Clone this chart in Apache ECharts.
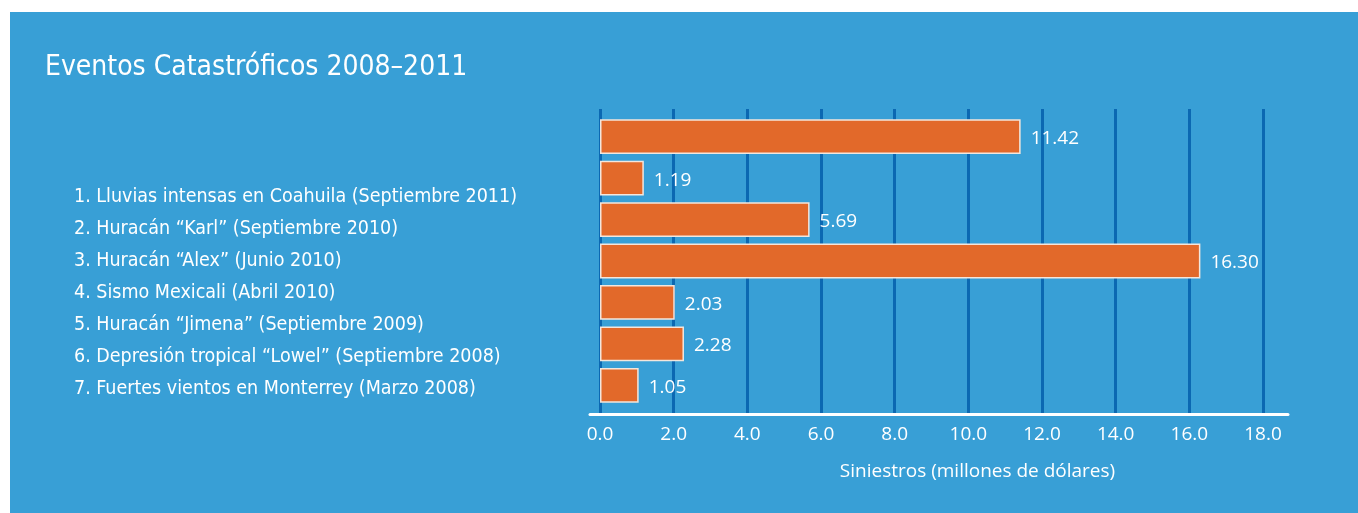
<!DOCTYPE html>
<html>
<head>
<meta charset="utf-8">
<script src="https://cdn.jsdelivr.net/npm/echarts@6/dist/echarts.min.js"></script>
<style>
  html, body { margin: 0; padding: 0; background: #ffffff; width: 1358px; height: 513px; overflow: hidden; }
  #chart { position: absolute; left: 10px; top: 12px; width: 1348px; height: 501px; background: #389fd6; }
</style>
</head>
<body>
<div id="chart"></div>
<script>
const titleText = 'Eventos Catastróficos 2008–2011';
const categories = [
  '1. Lluvias intensas en Coahuila (Septiembre 2011)',
  '2. Huracán “Karl” (Septiembre 2010)',
  '3. Huracán “Alex” (Junio 2010)',
  '4. Sismo Mexicali (Abril 2010)',
  '5. Huracán “Jimena” (Septiembre 2009)',
  '6. Depresión tropical “Lowel” (Septiembre 2008)',
  '7. Fuertes vientos en Monterrey (Marzo 2008)'
];
const values = [11.42, 1.19, 5.69, 16.30, 2.03, 2.28, 1.05];
const xTicks = [0, 2, 4, 6, 8, 10, 12, 14, 16, 18];
const axisName = 'Siniestros (millones de dólares)';

const chart = echarts.init(document.getElementById('chart'));
const narrow = '"DejaVu Sans Condensed", "Liberation Sans Narrow", sans-serif';
const humanist = '"Open Sans", "Noto Sans", sans-serif';

chart.setOption({
  animation: false,
  title: [
    {
      text: titleText, left: 35, top: 42, padding: 0,
      textStyle: { color: '#ffffff', fontFamily: narrow, fontSize: 28, fontWeight: 'normal' }
    },
    {
      text: categories.join('\n'), left: 64, top: 169, padding: 0,
      textStyle: { color: '#ffffff', fontFamily: narrow, fontSize: 19.5, fontWeight: 'normal', lineHeight: 32 }
    }
  ],
  grid: [
    { left: 590, right: 95, top: 97, bottom: 100 },
    { left: 590, right: 95, top: 104, bottom: 107 },
    { left: 580, right: 70, top: 97, bottom: 99 }
  ],
  xAxis: [
    {
      gridIndex: 0, type: 'value', min: xTicks[0], max: xTicks[xTicks.length - 1], interval: 2,
      axisLine: { show: false }, axisTick: { show: false },
      splitLine: { show: true, lineStyle: { color: '#0b68b2', width: 3 } },
      axisLabel: {
        color: '#ffffff', fontFamily: humanist, fontSize: 19, margin: 12,
        formatter: v => v.toFixed(1)
      },
      name: axisName, nameLocation: 'middle', nameGap: 49,
      nameTextStyle: { color: '#ffffff', fontFamily: humanist, fontSize: 19, padding: [0, 0, 0, 92] }
    },
    {
      gridIndex: 1, type: 'value', min: xTicks[0], max: xTicks[xTicks.length - 1],
      show: false
    },
    {
      gridIndex: 2, type: 'value', min: 0, max: 1,
      axisLine: { show: true, lineStyle: { color: '#ffffff', width: 3 } },
      axisTick: { show: false }, axisLabel: { show: false }, splitLine: { show: false }
    }
  ],
  yAxis: [
    { gridIndex: 0, type: 'category', data: categories, show: false },
    { gridIndex: 1, type: 'category', data: categories, inverse: true, show: false },
    { gridIndex: 2, type: 'value', show: false }
  ],
  series: [
    {
      type: 'bar', xAxisIndex: 1, yAxisIndex: 1, data: values,
      barCategoryGap: '16%',
      itemStyle: { color: '#e2692a', borderColor: '#f3e6dc', borderWidth: 1.5 },
      label: {
        show: true, position: 'right', distance: 10, offset: [0, 2],
        color: '#ffffff', fontFamily: humanist, fontSize: 19,
        formatter: p => p.value.toFixed(2)
      }
    }
  ]
});
</script>
</body>
</html>
